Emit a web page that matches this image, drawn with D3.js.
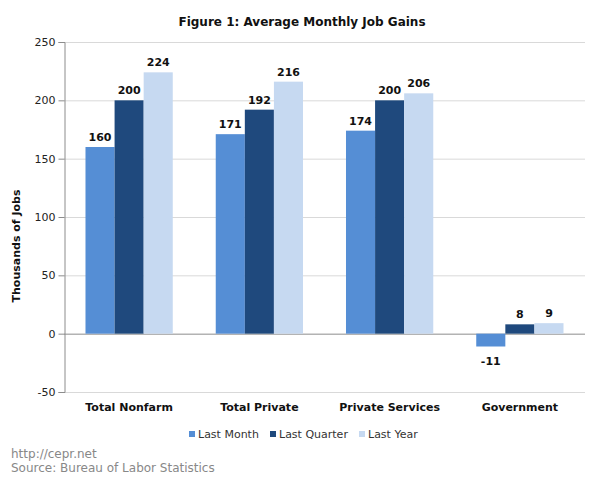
<!DOCTYPE html>
<html><head><meta charset="utf-8">
<script src="https://cdn.jsdelivr.net/npm/d3@7"></script>
<style>body{margin:0;background:#fff;}svg{display:block;}</style>
</head><body>
<svg id="chart" width="600" height="481"></svg>
<script>
const categories = ["Total Nonfarm", "Total Private", "Private Services", "Government"];
const seriesNames = ["Last Month", "Last Quarter", "Last Year"];
const lastMonth = [160, 171, 174, -11];
const lastQuarter = [200, 192, 200, 8];
const lastYear = [224, 216, 206, 9];
const yTicks = [-50, 0, 50, 100, 150, 200, 250];
const colors = ["#558ED5", "#1F497D", "#C6D9F1"];

const series = [lastMonth, lastQuarter, lastYear];
const svg = d3.select("#chart");
const font = "'DejaVu Sans', Verdana, sans-serif";
const m = {left: 64, right: 585, top: 42, bottom: 392};

const x0 = d3.scaleBand().domain(categories).range([m.left, m.right]).paddingInner(0.33).paddingOuter(0.165);
const x1 = d3.scaleBand().domain(seriesNames).range([0, x0.bandwidth()]);
const y = d3.scaleLinear().domain([-50, 250]).range([m.bottom, m.top]);

// gridlines
svg.append("g").selectAll("line").data(yTicks).join("line")
  .attr("x1", m.left).attr("x2", m.right)
  .attr("y1", d => y(d) + 0.5).attr("y2", d => y(d) + 0.5)
  .attr("stroke", d => d === 0 ? "#8c8c8c" : "#d9d9d9").attr("stroke-width", 1);

// y axis
const yAxis = d3.axisLeft(y).tickValues(yTicks).tickSize(6).tickPadding(3).tickFormat(d => String(d));
const ga = svg.append("g").attr("transform", `translate(${m.left + 0.5},0)`).call(yAxis);
ga.select(".domain").attr("stroke", "#8c8c8c");
ga.selectAll(".tick line").attr("stroke", "#8c8c8c");
ga.selectAll(".tick text").attr("font-family", font).attr("font-size", 11).attr("fill", "#222");

// bars
const groups = svg.append("g").selectAll("g").data(categories).join("g")
  .attr("transform", d => `translate(${x0(d)},0)`);
groups.selectAll("rect").data((c, i) => series.map((s, j) => ({name: seriesNames[j], v: s[i], j})))
  .join("rect")
  .attr("x", d => x1(d.name)).attr("width", x1.bandwidth())
  .attr("y", d => y(Math.max(0, d.v))).attr("height", d => Math.abs(y(d.v) - y(0)))
  .attr("fill", d => colors[d.j]);
groups.selectAll("text").data((c, i) => series.map((s, j) => ({name: seriesNames[j], v: s[i], j})))
  .join("text")
  .attr("x", d => x1(d.name) + x1.bandwidth() / 2)
  .attr("y", d => d.v >= 0 ? y(d.v) - 6 : y(d.v) + 18)
  .attr("text-anchor", "middle").attr("font-family", font).attr("font-size", 11)
  .attr("font-weight", "bold").attr("fill", "#111").text(d => String(d.v));

// category labels
svg.append("g").selectAll("text").data(categories).join("text")
  .attr("x", d => x0(d) + x0.bandwidth() / 2).attr("y", 411)
  .attr("text-anchor", "middle").attr("font-family", font).attr("font-size", 11)
  .attr("font-weight", "bold").attr("fill", "#111").text(d => d);

// title
svg.append("text").attr("x", 302).attr("y", 26).attr("text-anchor", "middle")
  .attr("font-family", font).attr("font-size", 12).attr("font-weight", "bold").attr("fill", "#111")
  .text("Figure 1: Average Monthly Job Gains");

// y label
svg.append("text").attr("transform", "translate(20,246) rotate(-90)").attr("text-anchor", "middle")
  .attr("font-family", font).attr("font-size", 11).attr("font-weight", "bold").attr("fill", "#111")
  .text("Thousands of Jobs");

// legend
const legX = [189, 270, 359];
const leg = svg.append("g").selectAll("g").data(seriesNames).join("g")
  .attr("transform", (d, i) => `translate(${legX[i]},434)`);
leg.append("rect").attr("x", 0).attr("y", -3).attr("width", 6).attr("height", 6).attr("fill", (d, i) => colors[i]);
leg.append("text").attr("x", 9).attr("y", 4).attr("font-family", font).attr("font-size", 11)
  .attr("fill", "#333").text(d => d);

// footer
svg.append("text").attr("x", 11).attr("y", 458).attr("font-family", font).attr("font-size", 12)
  .attr("fill", "#888").text("http://cepr.net");
svg.append("text").attr("x", 11).attr("y", 472).attr("font-family", font).attr("font-size", 12)
  .attr("fill", "#888").text("Source: Bureau of Labor Statistics");
</script>
</body></html>
